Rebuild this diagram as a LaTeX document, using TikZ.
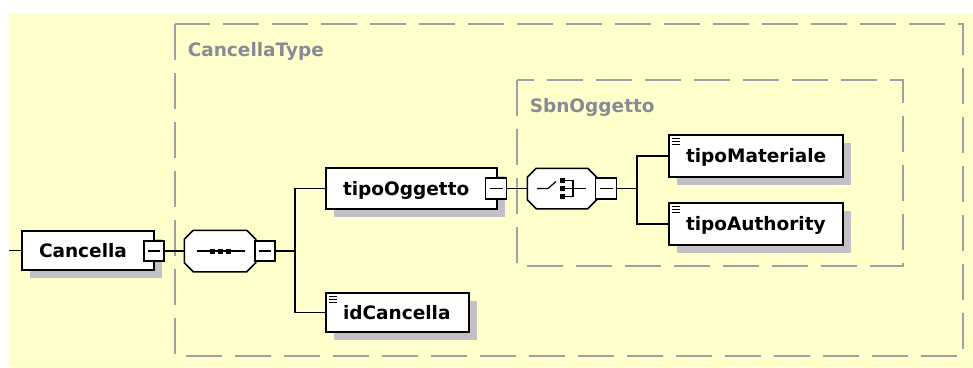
\documentclass[tikz,border=0pt]{standalone}
\usepackage{fontspec}
\setmainfont{DejaVu Sans}
\usepackage{tikz}
\usetikzlibrary{shadows}
\definecolor{bgyellow}{HTML}{FFFFCC}
\definecolor{dashgray}{HTML}{A0A0A0}
\definecolor{labgray}{HTML}{8A8A96}
\definecolor{shadowgray}{HTML}{C4C0C8}
\newcommand{\xsdfont}{\bfseries\fontsize{18.5}{20}\selectfont}
% octagon round a (borderless) compositor node
\newcommand{\octpath}[1]{([xshift=9pt]#1.north west) -- ([xshift=-9pt]#1.north east)
  -- ([yshift=-9pt]#1.north east) -- ([yshift=9pt]#1.south east)
  -- ([xshift=-9pt]#1.south east) -- ([xshift=9pt]#1.south west)
  -- ([yshift=9pt]#1.south west) -- ([yshift=-9pt]#1.north west) -- cycle}

\begin{document}
\begin{tikzpicture}[
  x=1pt, y=-1pt,
  font=\xsdfont,
  line width=1.5pt,
  shade/.style={drop shadow={shadow xshift=8pt, shadow yshift=-8pt, fill=shadowgray, opacity=1}},
  elem/.style={draw, fill=white, shade, align=left, inner xsep=17pt, inner ysep=0pt,
    text width=#1, text height=13.5pt, text depth=0pt},
  simple/.style={path picture={\foreach \k in {3,6,9}
    \draw[line width=0.9pt] ([xshift=3pt,yshift=-\k pt]path picture bounding box.north west) -- ++(8pt,0);}},
  minus/.style={draw, fill=white, minimum size=20pt, inner sep=0pt,
    path picture={\draw[line width=1.2pt] ([xshift=4pt]path picture bounding box.west) -- ([xshift=-4pt]path picture bounding box.east);}},
  compositor/.style={inner sep=0pt, minimum width=#1},
  groupbox/.style={draw=dashgray, line width=2pt, dash pattern=on 36pt off 13pt},
  grouplab/.style={text=labgray, anchor=base west, inner sep=0pt},
]
\useasboundingbox (0,0) rectangle (973,367);
\fill[bgyellow] (9,13) rectangle (973,367);

% complex type groups
\draw[groupbox] (175,24) rectangle (963,356);
\node[grouplab] (typelab) at (187,56) {CancellaType};
\draw[groupbox] (517,80) rectangle (903,266);
\node[grouplab] (sbnlab) at (529,112) {SbnOggetto};

% root element and sequence
\node[elem=98pt, minimum height=39pt] (cancella) at (88,250.5) {Cancella};
\node[minus] (cancellamin) at (154,251) {};
\node[compositor=70pt, minimum height=40pt] (seq) at (220,251) {};
\fill[shadowgray, shift={(8pt,-8pt)}] \octpath{seq};
\draw[fill=white] \octpath{seq};
\node[minus] (seqmin) at (265,251) {};
\begin{scope}[shift={(seq.center)}]
  \draw[line width=1.2pt] (-23,0) -- (25,0);
  \foreach \dx in {-8,0,8} \fill (\dx-2.5,-2.5) rectangle (\dx+2.5,2.5);
\end{scope}

% children of the sequence
\node[elem=137pt, minimum height=41pt] (tipoOggetto) at (411.5,188.5) {tipoOggetto};
\node[minus, minimum size=21pt] (tipomin) at (496,188.5) {};
\node[elem=109pt, minimum height=39pt, simple] (idCancella) at (397.5,312.5) {idCancella};

% choice inside SbnOggetto
\node[compositor=68pt, minimum height=39pt] (choice) at (562,188.5) {};
\fill[shadowgray, shift={(8pt,-8pt)}] \octpath{choice};
\draw[fill=white] \octpath{choice};
\node[minus, minimum size=21pt] (choicemin) at (606,188.5) {};
\begin{scope}[shift={(choice.center)}]
  \draw[line width=1.2pt] (-25,0) -- (-14,0) -- (-6,-7);
  \foreach \dy in {-8,0,8} \fill (-2,\dy-2.5) rectangle (2.5,\dy+2.5);
  \draw[line width=1.2pt] (2.5,-8) -- (11,-8) -- (11,8) -- (2.5,8);
  \draw[line width=1.2pt] (2.5,0) -- (24,0);
\end{scope}
\node[elem=140pt, minimum height=42pt, simple] (tipoMateriale) at (756,156) {tipoMateriale};
\node[elem=140pt, minimum height=42pt, simple] (tipoAuthority) at (756,224) {tipoAuthority};

% connectors
\coordinate (entry) at (9,250.5);
\coordinate (seqfork) at (295,251);
\coordinate (choicefork) at (637,188.5);
\draw (entry) -- (cancella.west);
\foreach \u/\v in {cancellamin/seq, seqmin/seqfork, tipomin/choice, choicemin/choicefork}
  \draw (\u.east) -- (\v);
\draw (tipoOggetto.west) -| (seqfork) |- (idCancella.west);
\draw (tipoMateriale.west) -| (choicefork) |- (tipoAuthority.west);
\end{tikzpicture}
\end{document}
